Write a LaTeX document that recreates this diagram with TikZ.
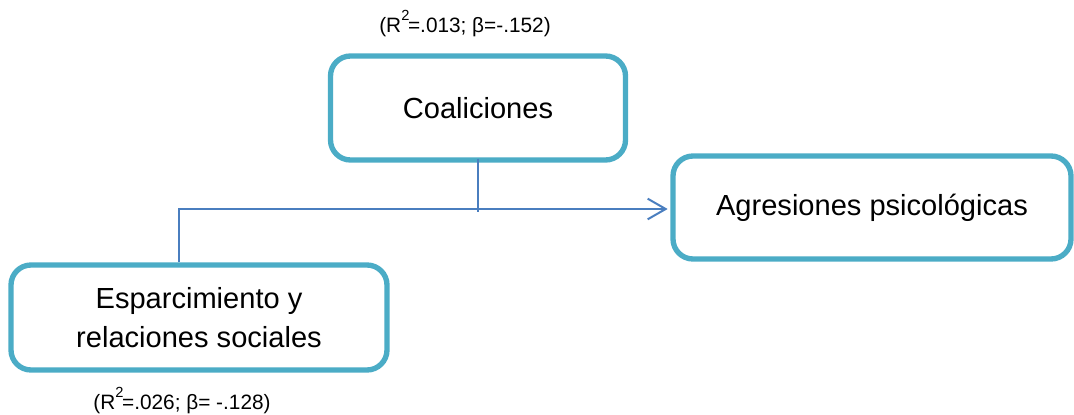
\documentclass[tikz,border=0pt]{standalone}
\usepackage{fontspec}
\setmainfont{Liberation Sans}
\usetikzlibrary{arrows.meta}
\definecolor{boxborder}{HTML}{4BACC6}
\definecolor{linkblue}{HTML}{4A7EBF}
\newcommand{\rsq}{R\raisebox{9pt}{\fontsize{11}{11}\selectfont 2}\kern-1pt}
\begin{document}
\begin{tikzpicture}[x=0.75pt,y=-0.75pt,
  varbox/.style={draw=boxborder,line width=4pt,rounded corners=15pt,fill=white,
    align=center,inner sep=0pt,font=\fontsize{21.8}{29.3}\selectfont},
  link/.style={draw=linkblue,line width=1.5pt},
  statlabel/.style={anchor=base,inner sep=0pt,font=\fontsize{15.6}{18}\selectfont}]
\useasboundingbox (0,0) rectangle (1074,414);
\node[varbox,minimum width=221.25pt,minimum height=78pt] (coal) at (478,108) {Coaliciones};
\node[varbox,minimum width=298.5pt,minimum height=77.25pt] (agr) at (872,207.5) {Agresiones psicológicas};
\node[varbox,minimum width=282pt,minimum height=78.75pt] (esp) at (199,317.5) {Esparcimiento y\\relaciones sociales};
\coordinate (j) at (179,209);
\draw[link,-{Straight Barb[length=13.5pt,width=15.5pt,line width=1.5pt]}] (esp.north -| j) -- (j) -- ([xshift=-2pt]agr.west |- j);
\draw[link] ([yshift=3pt]coal.south) -- ([yshift=-2.5pt]coal.south |- j);
\node[statlabel] (top) at (465,32) {(\rsq=.013; β=-.152)};
\node[statlabel] (bot) at (182,409) {(\rsq=.026; β= -.128)};
\end{tikzpicture}
\end{document}
